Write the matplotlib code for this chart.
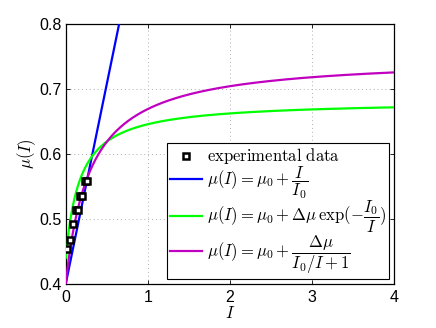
import numpy as np
import matplotlib
matplotlib.use("Agg")
import matplotlib.pyplot as plt
from matplotlib.lines import Line2D

plt.rcParams['mathtext.fontset'] = 'cm'
plt.rcParams['font.family'] = ['Liberation Sans', 'DejaVu Sans']

# experimental data
I_data = [0.02, 0.05, 0.09, 0.12, 0.15, 0.17, 0.20, 0.23, 0.26]
mu_data = [0.454, 0.468, 0.492, 0.514, 0.514, 0.535, 0.535, 0.558, 0.558]

# model parameters
mu0_lin, I0_lin = 0.40, 1.625
mu0_exp, dmu_exp, I0_exp = 0.44, 0.242, 0.1755
mu0_rat, dmu_rat, I0_rat = 0.40, 0.35, 0.30

xticks = [0, 1, 2, 3, 4]
yticks = [0.4, 0.5, 0.6, 0.7, 0.8]

I = np.linspace(1e-4, 4, 2000)
mu_lin = mu0_lin + I / I0_lin
mu_exp = mu0_exp + dmu_exp / (I0_exp / I + 1)
mu_rat = mu0_rat + dmu_rat / (I0_rat / I + 1)

fig = plt.figure(figsize=(4.36, 3.28), dpi=100)
ax = fig.add_axes([0.1507, 0.1341, 0.7537, 0.7927])

ax.plot(I, mu_lin, color='#0000ff', lw=1.6, zorder=3)
ax.plot(I, mu_exp, color='#00ff00', lw=1.6, zorder=3)
ax.plot(I, mu_rat, color='#c000c0', lw=1.6, zorder=3)
ax.plot(I_data, mu_data, ls='none', marker='s', ms=4.3, mfc='white',
        mec='black', mew=1.8, zorder=4)

ax.set_xlim(0, 4)
ax.set_ylim(0.4, 0.8)
ax.set_xticks(xticks)
ax.set_yticks(yticks)
ax.set_xticklabels([str(v) for v in xticks])
ax.set_yticklabels(['%.1f' % v for v in yticks])
ax.tick_params(direction='in', top=True, right=True, length=3, width=0.6,
               labelsize=11.5)
ax.tick_params(axis='x', pad=4)
ax.tick_params(axis='y', pad=3)
ax.grid(True, color='#b0b0b0', ls=(0, (1, 3)), lw=0.7)
for s in ax.spines.values():
    s.set_linewidth(0.9)

ax.set_xlabel(r'$I$', fontsize=12, labelpad=0)
ax.set_ylabel(r'$\mu(I)$', fontsize=12, labelpad=1)

handles = [
    Line2D([], [], ls='none', marker='s', ms=4.3, mfc='white', mec='black', mew=1.8),
    Line2D([], [], color='#0000ff', lw=1.6),
    Line2D([], [], color='#00ff00', lw=1.6),
    Line2D([], [], color='#c000c0', lw=1.6),
]
labels = [
    r'$\mathrm{experimental\ data}$',
    r'$\mu(I) = \mu_0 + \dfrac{I}{I_0}$',
    r'$\mu(I) = \mu_0 + \Delta\mu\,\exp(-\dfrac{I_0}{I})$',
    r'$\mu(I) = \mu_0 + \dfrac{\Delta\mu}{I_0/I + 1}$',
]
leg = ax.legend(handles, labels, loc='lower right',
                bbox_to_anchor=(0.984, 0.019), fontsize=12,
                frameon=True, fancybox=False, framealpha=1, edgecolor='black',
                handlelength=1.95, handletextpad=0.25, labelspacing=-0.1,
                borderpad=0.2, borderaxespad=0)
leg.get_frame().set_linewidth(0.8)
leg.set_zorder(5)

fig.savefig('out.png', dpi=100)
